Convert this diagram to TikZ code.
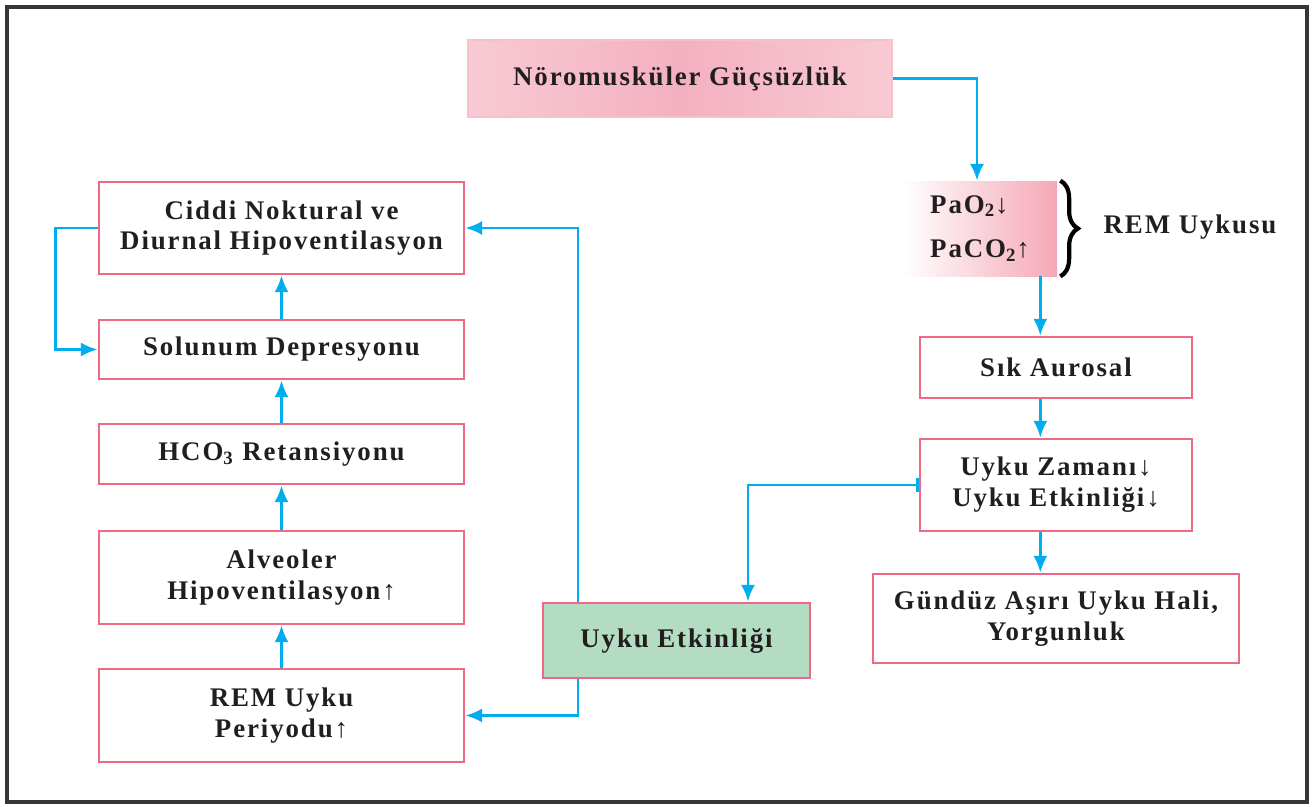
\documentclass[tikz,border=0pt]{standalone}
\usepackage{fontspec}
\setmainfont{Liberation Serif}[LetterSpace=7]
\usetikzlibrary{positioning,arrows.meta,decorations.pathreplacing}
\definecolor{kenar}{RGB}{238,106,132}
\definecolor{ok}{RGB}{0,174,239}
\definecolor{yesil}{RGB}{179,220,195}
\definecolor{pembe}{RGB}{244,176,192}
\definecolor{acik}{RGB}{248,202,212}
\definecolor{yazi}{RGB}{34,30,31}

\begin{document}
\begin{tikzpicture}[x=0.02cm, y=-0.02cm,
	font=\fontsize{15.3}{17.5}\selectfont\bfseries, text=yazi,
	kutu/.style={draw=kenar, line width=1.6pt, align=center, inner sep=0pt},
	arr/.style={ok, line width=1.6pt, -{Latex[length=9.5pt,width=8pt]}}]
	\def\s{0.02} % one pixel of the reference in cm
	\useasboundingbox (0,0) rectangle (1313,806);
	\draw[line width=2pt, yazi!90] (7,7) rectangle (1307,802);

	%--- right column ---
	\node[draw=pembe!80, line width=1.2pt, left color=acik, right color=acik, middle color=pembe,
		minimum width=424*\s cm, minimum height=77*\s cm] (nm) at (680,78.5) {Nöromusküler Güçsüzlük};
	\node[left color=white, right color=pembe!95!red, align=left,
		minimum width=154*\s cm, minimum height=95*\s cm] (pa) at (980,228.5)
		{PaO\textsubscript{2}↓\\[8pt] PaCO\textsubscript{2}↑};
	\draw[decorate, decoration={brace, amplitude=10pt}, line width=2.4pt, black]
		([xshift=3*\s cm]pa.north east) -- ([xshift=3*\s cm]pa.south east);
	\node (remu) at (1190,227) {REM Uykusu};
	\node[kutu, minimum width=272*\s cm, minimum height=61*\s cm] (sik) at (1056,367.5) {Sık Aurosal};
	\node[kutu, minimum width=272*\s cm, minimum height=92*\s cm] (uz) at (1056,485) {Uyku Zamanı↓\\Uyku Etkinliği↓};
	\node[kutu, minimum width=366*\s cm, minimum height=89*\s cm] (gun) at (1056,618.5) {Gündüz Aşırı Uyku Hali,\\Yorgunluk};
	\node[kutu, fill=yesil, minimum width=267*\s cm, minimum height=75*\s cm] (ue) at (676.5,640.5) {Uyku Etkinliği};

	%--- left column ---
	\node[kutu, minimum width=365*\s cm, minimum height=92*\s cm] (cid) at (281.5,228) {Ciddi Noktural ve\\Diurnal Hipoventilasyon};
	\node[kutu, minimum width=365*\s cm, minimum height=59*\s cm] (sol) at (281.5,349.5) {Solunum Depresyonu};
	\node[kutu, minimum width=365*\s cm, minimum height=60*\s cm] (hco) at (281.5,454) {HCO\textsubscript{3} Retansiyonu};
	\node[kutu, minimum width=365*\s cm, minimum height=93*\s cm] (alv) at (281.5,577.5) {Alveoler\\Hipoventilasyon↑};
	\node[kutu, minimum width=365*\s cm, minimum height=93*\s cm] (rem) at (281.5,715.5) {REM Uyku\\Periyodu↑};

	%--- arrows ---
	\draw[arr] (nm.east) -| ([xshift=-3*\s cm]pa.north);
	\draw[arr] ([xshift=-17*\s cm]pa.south east) coordinate (p1) -- (p1 |- sik.north);
	\draw[arr] (p1 |- sik.south) -- (p1 |- uz.north);
	\draw[arr] (p1 |- uz.south) -- (p1 |- gun.north);
	\draw[arr, {Bar[width=8pt]}-{Latex[length=9.5pt,width=8pt]}] (uz.west) -| ([xshift=71.5*\s cm]ue.north);
	\draw[arr] ([xshift=-98.5*\s cm]ue.north) |- (cid.east);
	\draw[arr] ([xshift=-98.5*\s cm]ue.south) |- (rem.east);
	\foreach \a/\b in {rem/alv, alv/hco, hco/sol, sol/cid}
		\draw[arr] (\a.north) -- (\b.south);
	\draw[arr] (cid.west) -- ++(-42,0) |- (sol.west);
\end{tikzpicture}
\end{document}
